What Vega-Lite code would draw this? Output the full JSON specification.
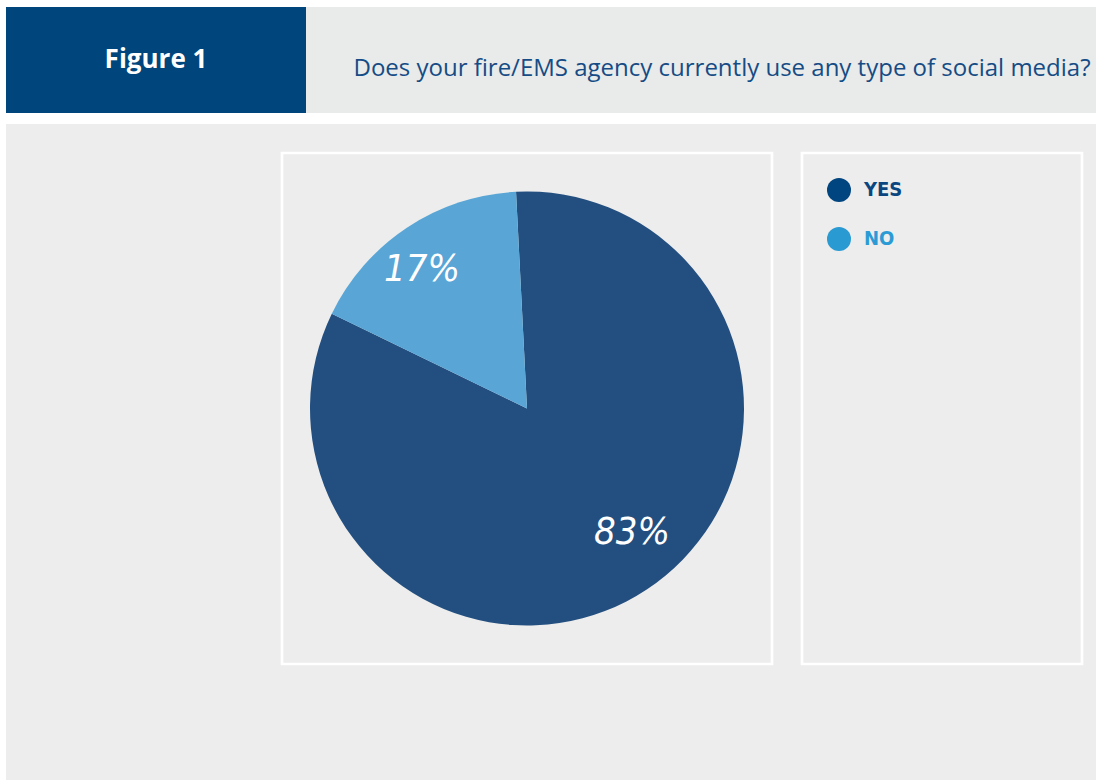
{
  "$schema": "https://vega.github.io/schema/vega-lite/v6.json",
  "background": "#ecedec",
  "padding": 0,
  "autosize": {"type": "pad"},
  "config": {"view": {"stroke": null}, "concat": {"spacing": 0}},
  "datasets": {
    "answers": [
      {"answer": "YES", "pct": 83, "label": "83%"},
      {"answer": "NO", "pct": 17, "label": "17%"}
    ],
    "figure": [{"t": "Figure 1"}],
    "question": [{"t": "Does your fire/EMS agency currently use any type of social media?"}],
    "empty": []
  },
  "spacing": 0,
  "hconcat": [
    {"data": {"name": "empty"}, "mark": "point", "width": 6, "height": 780, "view": {"fill": "white", "stroke": null}},
    {
      "spacing": 0,
      "vconcat": [
        {"data": {"name": "empty"}, "mark": "point", "width": 1090, "height": 7, "view": {"fill": "white", "stroke": null}},
        {
          "spacing": 0,
          "hconcat": [
            {
              "data": {"name": "figure"},
              "width": 300, "height": 106,
              "view": {"fill": "#00457c", "stroke": null},
              "mark": {"type": "text", "font": "Open Sans", "fontSize": 26, "fontWeight": "bold", "color": "white", "baseline": "middle", "align": "center", "dy": 0},
              "encoding": {"text": {"field": "t"}}
            },
            {
              "data": {"name": "question"},
              "width": 790, "height": 106,
              "view": {"fill": "#e9eaea", "stroke": null},
              "mark": {"type": "text", "font": "Open Sans", "fontSize": 24, "color": "#154c85", "baseline": "middle", "align": "center", "dx": 21, "dy": 9},
              "encoding": {"text": {"field": "t"}}
            }
          ]
        },
        {"data": {"name": "empty"}, "mark": "point", "width": 1090, "height": 11, "view": {"fill": "white", "stroke": null}},
        {"data": {"name": "empty"}, "mark": "point", "width": 1090, "height": 27},
        {
          "spacing": 0,
          "resolve": {"scale": {"color": "independent", "theta": "independent"}, "legend": {"color": "independent"}},
          "hconcat": [
            {"data": {"name": "empty"}, "mark": "point", "width": 274, "height": 511},
            {
              "data": {"name": "answers"},
              "width": 490, "height": 511,
              "view": {"stroke": "white", "strokeWidth": 2.7, "fill": null},
              "encoding": {
                "color": {"field": "answer", "type": "nominal", "scale": {"domain": ["YES", "NO"], "range": ["#234f80", "#58a5d6"]}, "legend": null},
                "order": {"field": "answer", "sort": "descending"}
              },
              "resolve": {"scale": {"theta": "independent"}},
              "layer": [
                {
                  "mark": {"type": "arc", "outerRadius": 217},
                  "encoding": {"theta": {"field": "pct", "type": "quantitative", "stack": true, "scale": {"range": [-0.0506, 6.2326]}}}
                },
                {
                  "mark": {"type": "text", "radius": 168, "dy": -7, "font": "'DejaVu Sans Condensed', 'Liberation Sans Narrow', Roboto, sans-serif", "fontStyle": "italic", "fontSize": 38, "fill": "white", "baseline": "middle", "align": "center"},
                  "encoding": {
                    "theta": {"field": "pct", "type": "quantitative", "stack": true, "scale": {"range": [-0.1406, 6.1426]}},
                    "text": {"field": "label"},
                    "color": {"value": "white"}
                  }
                }
              ]
            },
            {"data": {"name": "empty"}, "mark": "point", "width": 26, "height": 511},
            {
              "data": {"name": "answers"},
              "width": 280, "height": 511,
              "view": {"stroke": "white", "strokeWidth": 2.7, "fill": null},
              "mark": {"type": "circle", "opacity": 0},
              "encoding": {
                "color": {
                  "field": "answer", "type": "nominal",
                  "scale": {"domain": ["YES", "NO"], "range": ["#00457f", "#2a9ad3"]},
                  "legend": {
                    "orient": "top-left", "offset": 25, "title": null, "padding": 0,
                    "symbolType": "circle", "symbolSize": 576, "symbolOpacity": 1, "symbolStrokeWidth": 0,
                    "labelFont": "'DejaVu Sans Condensed', 'Liberation Sans Narrow', Roboto, sans-serif", "labelFontSize": 20, "labelFontWeight": "bold",
                    "labelOffset": 13, "rowPadding": 25,
                    "encode": {"labels": {"update": {"fill": {"signal": "datum.value === 'YES' ? '#0b4680' : '#2a9bd5'"}}}}
                  }
                }
              }
            },
            {"data": {"name": "empty"}, "mark": "point", "width": 13, "height": 511}
          ]
        },
        {"data": {"name": "empty"}, "mark": "point", "width": 1090, "height": 114}
      ]
    }
  ]
}
